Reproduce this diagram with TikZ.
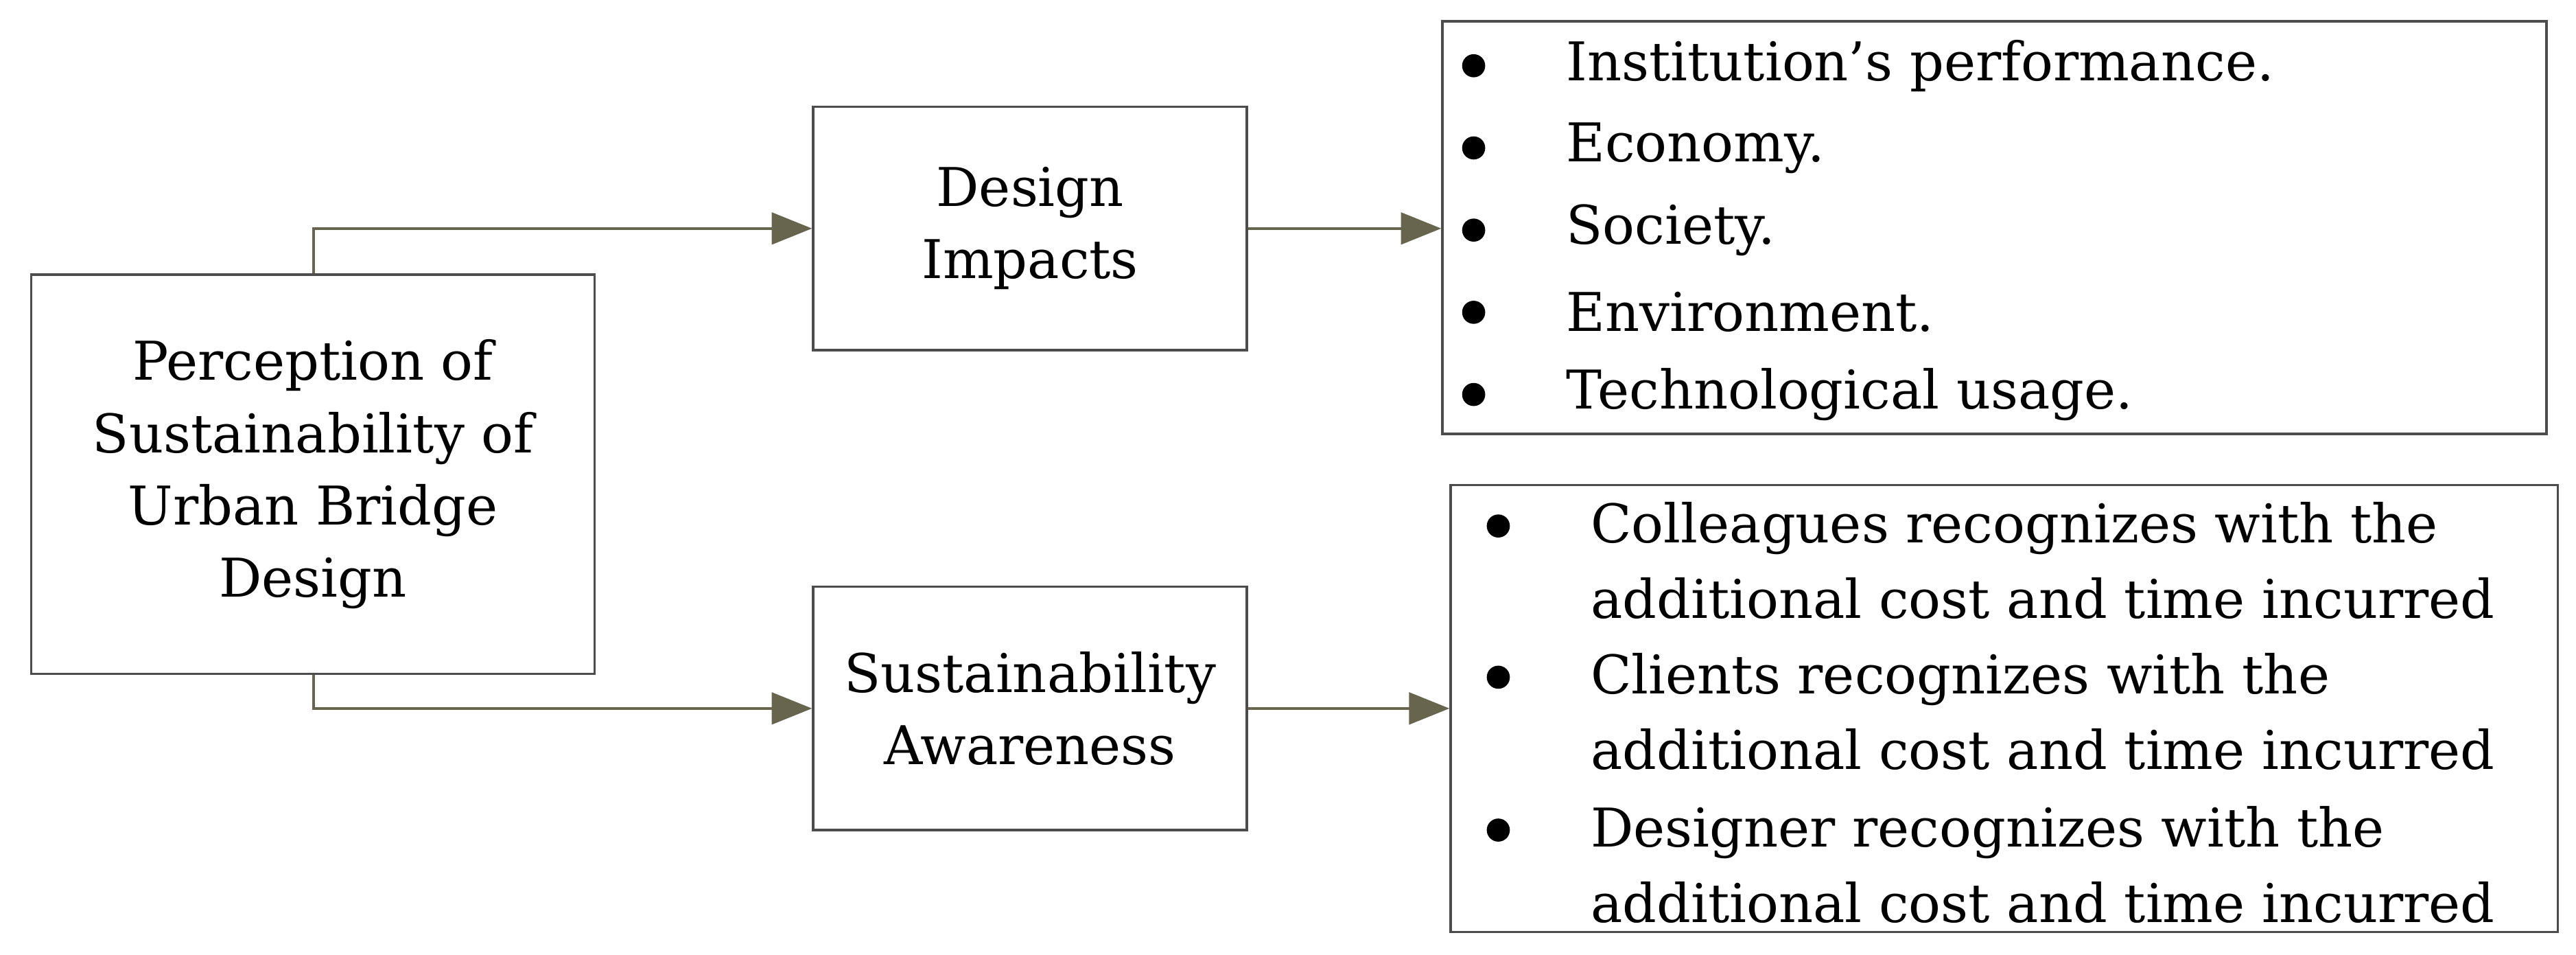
\documentclass[tikz,border=0pt]{standalone}
\usepackage{fontspec}
\setmainfont{DejaVu Serif}
\usetikzlibrary{arrows.meta}
\begin{document}
\begin{tikzpicture}[x=0.02cm,y=-0.02cm,
  box/.style={draw=black!70,line width=0.8pt,inner sep=0pt},
  conn/.style={draw=black!60!olive!60!gray,line width=1pt,-{Triangle[length=14pt,width=11pt]}},
  txt/.style={font=\fontsize{18.5}{25}\selectfont,align=center},
  item/.style={font=\fontsize{18.5}{26}\selectfont,anchor=west,align=left,inner sep=0pt},
  dot/.style={circle,fill=black,inner sep=0pt,minimum size=8pt}]
\useasboundingbox (0,0) rectangle (1568,581);
\node[box,minimum width=343*0.02cm,minimum height=243*0.02cm] (L) at (190.5,288.5) {};
\node[txt] (Lt) at (L.center) {Perception of\\Sustainability of\\Urban Bridge\\Design};
\node[box,minimum width=264*0.02cm,minimum height=148*0.02cm] (D) at (627,139) {};
\node[txt] (Dt) at (D.center) {Design\\Impacts};
\node[box,minimum width=264*0.02cm,minimum height=148*0.02cm] (S) at (627,431) {};
\node[txt] (St) at (S.center) {Sustainability\\Awareness};
\node[box,minimum width=672*0.02cm,minimum height=251*0.02cm] (T) at (1214,138.5) {};
\node[box,minimum width=674*0.02cm,minimum height=272*0.02cm] (B) at (1220,431) {};
\coordinate (c1) at (191,139);
\coordinate (c2) at (191,431);
\draw[conn] (L.north -| c1) -- (c1) -- (D.west);
\draw[conn] (L.south -| c2) -- (c2) -- (S.west);
\draw[conn] (D.east) -- (T.west |- D.east);
\draw[conn] (S.east) -- (B.west |- S.east);
\foreach \y/\t [count=\i] in {40/Institution’s performance., 90/Economy., 140/Society., 190/Environment., 240/Technological usage.}{
  \node[dot] (td\i) at (897,\y) {};
  \node[item] (ti\i) at (953,\y) {\t};
}
\foreach \y/\t [count=\i] in {341/Colleagues, 433/Clients, 526/Designer}{
  \node[dot] (bd\i) at (912,\y-21) {};
  \node[item] (bi\i) at (968,\y) {\t{} recognizes with the\\additional cost and time incurred};
}
\end{tikzpicture}
\end{document}
